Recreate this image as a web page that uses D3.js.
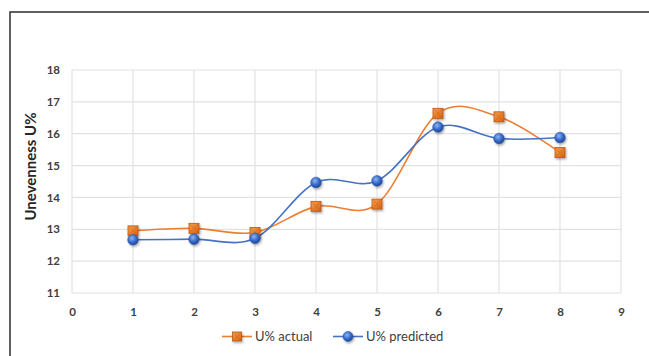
<!DOCTYPE html>
<html>
<head>
<meta charset="utf-8">
<script src="https://cdn.jsdelivr.net/npm/d3@7"></script>
<style>
  html, body { margin: 0; padding: 0; background: #fff; }
  svg { display: block; }
</style>
</head>
<body>
<svg id="chart" width="649" height="356"></svg>
<script>
// Sample index and unevenness values
const samples = [1, 2, 3, 4, 5, 6, 7, 8];
const actual = [12.95, 13.03, 12.9, 13.72, 13.79, 16.64, 16.53, 15.41];
const predicted = [12.67, 12.69, 12.72, 14.47, 14.52, 16.21, 15.85, 15.88];
const xTicks = [0, 1, 2, 3, 4, 5, 6, 7, 8, 9];
const yTicks = [11, 12, 13, 14, 15, 16, 17, 18];
const seriesNames = ["U% actual", "U% predicted"];
const yTitle = "Unevenness U%";

const svg = d3.select("#chart");
const font = "Lato, 'Open Sans', sans-serif";

const x = d3.scaleLinear().domain([0, 9]).range([72, 621]);
const y = d3.scaleLinear().domain([11, 18]).range([293, 70]);

const defs = svg.append("defs");
// marker shading
const rg = defs.append("radialGradient").attr("id", "ballBlue")
  .attr("cx", "40%").attr("cy", "35%").attr("r", "65%");
rg.append("stop").attr("offset", "0%").attr("stop-color", "#8fb4f0");
rg.append("stop").attr("offset", "55%").attr("stop-color", "#3a6fd0");
rg.append("stop").attr("offset", "100%").attr("stop-color", "#1f4594");
const lg = defs.append("linearGradient").attr("id", "boxOrange")
  .attr("x1", "0").attr("y1", "0").attr("x2", "1").attr("y2", "1");
lg.append("stop").attr("offset", "0%").attr("stop-color", "#f7a050");
lg.append("stop").attr("offset", "100%").attr("stop-color", "#d8600e");
const sh = defs.append("filter").attr("id", "shadow")
  .attr("x", "-50%").attr("y", "-50%").attr("width", "200%").attr("height", "200%");
sh.append("feDropShadow").attr("dx", 1).attr("dy", 1.5).attr("stdDeviation", 1.2)
  .attr("flood-color", "#000").attr("flood-opacity", 0.35);

// outer frame
svg.append("rect").attr("x", 10).attr("y", 12).attr("width", 660).attr("height", 360)
  .attr("fill", "none").attr("stroke", "#3a3a3a").attr("stroke-width", 1.6);

// gridlines
const grid = svg.append("g");
grid.selectAll("line.v").data(xTicks).join("line")
  .attr("x1", d => x(d)).attr("x2", d => x(d))
  .attr("y1", y(11)).attr("y2", y(18))
  .attr("stroke", "#e2e2e2").attr("stroke-width", 1.2);
grid.selectAll("line.h").data(yTicks).join("line")
  .attr("x1", x(0)).attr("x2", x(9))
  .attr("y1", d => y(d)).attr("y2", d => y(d))
  .attr("stroke", "#e2e2e2").attr("stroke-width", 1.2);

// axes (labels only)
const yAxis = d3.axisLeft(y).tickValues(yTicks).tickFormat(d3.format("d")).tickSize(0).tickPadding(12);
const gy = svg.append("g").attr("transform", `translate(${x(0)},0)`).call(yAxis);
const xAxis = d3.axisBottom(x).tickValues(xTicks).tickFormat(d3.format("d")).tickSize(0).tickPadding(15);
const gx = svg.append("g").attr("transform", `translate(0,${y(11)})`).call(xAxis);
[gx, gy].forEach(g => {
  g.select(".domain").remove();
  g.selectAll("text").attr("font-family", font).attr("font-size", 11.5)
    .attr("font-weight", "bold").attr("fill", "#404040");
});

svg.append("text")
  .attr("transform", `translate(36,${(y(11) + y(18)) / 2 - 15}) rotate(-90)`)
  .attr("text-anchor", "middle")
  .attr("font-family", font).attr("font-size", 15).attr("font-weight", "bold")
  .attr("fill", "#262626").text(yTitle);

// smoothed lines
const line = d3.line().x(d => x(d[0])).y(d => y(d[1])).curve(d3.curveCardinal.tension(0));
const colors = ["#ed7d31", "#4472c4"];
const data = [actual, predicted].map(vals => samples.map((s, i) => [s, vals[i]]));

data.forEach((pts, k) => {
  svg.append("path").datum(pts).attr("d", line)
    .attr("fill", "none").attr("stroke", colors[k]).attr("stroke-width", 1.6);
});

function square(g, cx, cy, s) {
  const m = g.append("g").attr("transform", `translate(${cx},${cy})`).attr("filter", "url(#shadow)");
  m.append("rect").attr("x", -s / 2).attr("y", -s / 2).attr("width", s).attr("height", s)
    .attr("fill", "url(#boxOrange)").attr("stroke", "#b65a12").attr("stroke-width", 0.8);
  m.append("path")
    .attr("d", `M${-s / 2},${-s / 2}L${s / 2},${s / 2}M${s / 2},${-s / 2}L${-s / 2},${s / 2}`)
    .attr("stroke", "#c45a10").attr("stroke-width", 0.7).attr("opacity", 0.6);
}
function ball(g, cx, cy, r) {
  g.append("circle").attr("cx", cx).attr("cy", cy).attr("r", r)
    .attr("fill", "url(#ballBlue)").attr("stroke", "#2d5aa8").attr("stroke-width", 0.6)
    .attr("filter", "url(#shadow)");
}

const mk = svg.append("g");
data[0].forEach(d => square(mk, x(d[0]), y(d[1]), 10));
data[1].forEach(d => ball(mk, x(d[0]), y(d[1]), 5.3));

// legend
const lgY = 336.5;
const leg = svg.append("g");
leg.append("line").attr("x1", 222).attr("x2", 252).attr("y1", lgY).attr("y2", lgY)
  .attr("stroke", colors[0]).attr("stroke-width", 1.6);
square(leg, 237, lgY, 9);
leg.append("text").attr("x", 255).attr("y", lgY + 4.5).text(seriesNames[0]);
leg.append("line").attr("x1", 333).attr("x2", 363).attr("y1", lgY).attr("y2", lgY)
  .attr("stroke", colors[1]).attr("stroke-width", 1.6);
ball(leg, 348, lgY, 5);
leg.append("text").attr("x", 366).attr("y", lgY + 4.5).text(seriesNames[1]);
leg.selectAll("text").attr("font-family", font).attr("font-size", 13).attr("fill", "#404040");
</script>
</body>
</html>
